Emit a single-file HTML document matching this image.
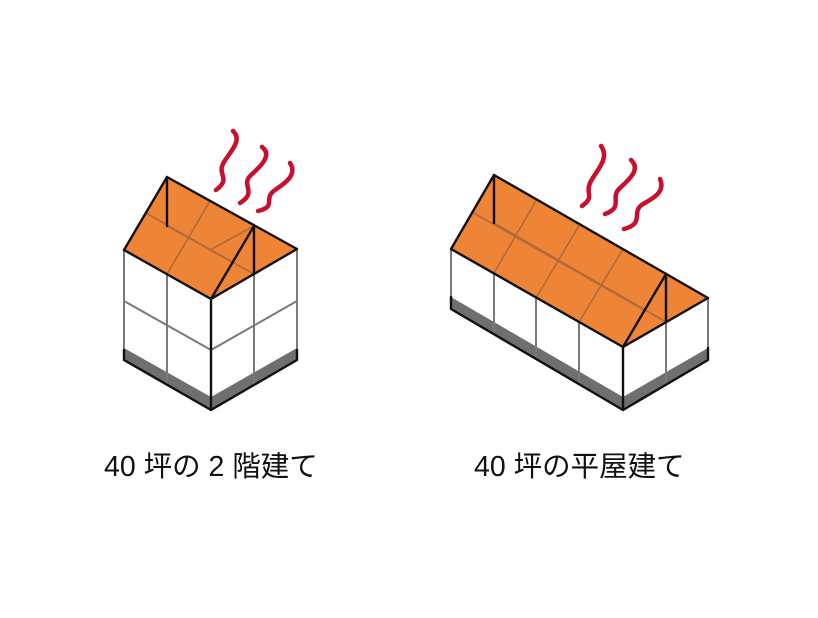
<!DOCTYPE html>
<html><head><meta charset="utf-8"><style>
body{margin:0;background:#fff;width:818px;height:618px;overflow:hidden}
svg{position:absolute;left:0;top:0}
.t{font-family:"Liberation Sans","Noto Sans CJK JP",sans-serif;font-size:28.5px;fill:#111}
</style></head><body>
<svg width="818" height="618" viewBox="0 0 818 618">
<g stroke-linejoin="round" stroke-linecap="round">
<polygon points="124,250 211,299 211,410 124,360" fill="#fff"/>
<polygon points="211,299 297,249 297,360 211,410" fill="#fff"/>
<polygon points="124,348 211,397 211,410 124,360" fill="#6f6f6f"/>
<polygon points="211,397 297,348 297,360 211,410" fill="#6f6f6f"/>
<g stroke="#7a7a7a" stroke-width="2" fill="none">
<line x1="167" y1="274" x2="167" y2="385"/><line x1="254" y1="274" x2="254" y2="385"/>
<polyline points="124,301 211,350 297,301"/>
<line x1="124" y1="250" x2="124" y2="360"/><line x1="297" y1="249" x2="297" y2="360"/>
</g>
<polygon points="124,250 167,177 297,249 211,299" fill="#ee8435"/>
<g stroke="#b06a3c" stroke-width="1.6" fill="none">
<line x1="167" y1="226" x2="254" y2="274"/>
<line x1="210" y1="201" x2="167" y2="274"/>
<line x1="146" y1="213" x2="232" y2="262"/>
<line x1="254" y1="226" x2="210" y2="250"/>
</g>
<g stroke="#111" stroke-width="2.4" fill="none">
<polygon points="124,250 167,177 297,249 211,299"/>
<line x1="167" y1="177" x2="167" y2="226"/>
<line x1="254" y1="226" x2="211" y2="299"/>
<line x1="254" y1="226" x2="254" y2="274"/>
<line x1="211" y1="299" x2="211" y2="410"/>
<polyline points="124,350 124,360 211,410 297,360 297,350"/>
</g>
<polygon points="451,249 623,347 623,410 451,309" fill="#fff"/>
<polygon points="623,347 708,298 708,360 623,410" fill="#fff"/>
<polygon points="451,297 623,397 623,410 451,309" fill="#6f6f6f"/>
<polygon points="623,397 708,348 708,360 623,410" fill="#6f6f6f"/>
<g stroke="#7a7a7a" stroke-width="2" fill="none">
<line x1="494" y1="273" x2="494" y2="334"/><line x1="536" y1="298" x2="536" y2="359"/><line x1="579" y1="322" x2="579" y2="384"/>
<line x1="666" y1="322" x2="666" y2="385"/>
<line x1="451" y1="249" x2="451" y2="309"/><line x1="708" y1="298" x2="708" y2="360"/>
</g>
<polygon points="451,249 494,175 708,298 623,347" fill="#ee8435"/>
<g stroke="#b06a3c" stroke-width="1.6" fill="none">
<line x1="494" y1="223" x2="666" y2="322"/>
<line x1="472" y1="212" x2="644" y2="310"/>
<line x1="537" y1="199" x2="494" y2="273"/>
<line x1="580" y1="224" x2="536" y2="298"/>
<line x1="623" y1="249" x2="579" y2="322"/>
</g>
<g stroke="#111" stroke-width="2.4" fill="none">
<polygon points="451,249 494,175 708,298 623,347"/>
<line x1="494" y1="175" x2="494" y2="223"/>
<line x1="666" y1="274" x2="623" y2="347"/>
<line x1="666" y1="274" x2="666" y2="322"/>
<line x1="623" y1="347" x2="623" y2="410"/>
<polyline points="451,297 451,309 623,410 708,360 708,348"/>
</g>
</g>
<g stroke="#c8102e" stroke-width="4.5" fill="none" stroke-linecap="round">
<path d="M233,131 C243,140 230,152 224,162 C216,175 232,178 216,190"/>
<path d="M262,147 C273,155 260,167 251,175 C240,185 258,192 240,203"/>
<path d="M290,163 C298,175 284,184 275,190 C262,199 278,206 258,211"/>
<path d="M601,146 C610,158 597,170 591,181 C584,194 596,196 582,206"/>
<path d="M631,160 C642,170 627,181 619,189 C610,198 624,207 605,214"/>
<path d="M660,179 C666,192 652,199 643,204 C630,212 646,223 624,229"/>
</g>
<text class="t" x="104" y="476">40 坪の 2 階建て</text>
<text class="t" x="474" y="476">40 坪の平屋建て</text>
</svg>
</body></html>
